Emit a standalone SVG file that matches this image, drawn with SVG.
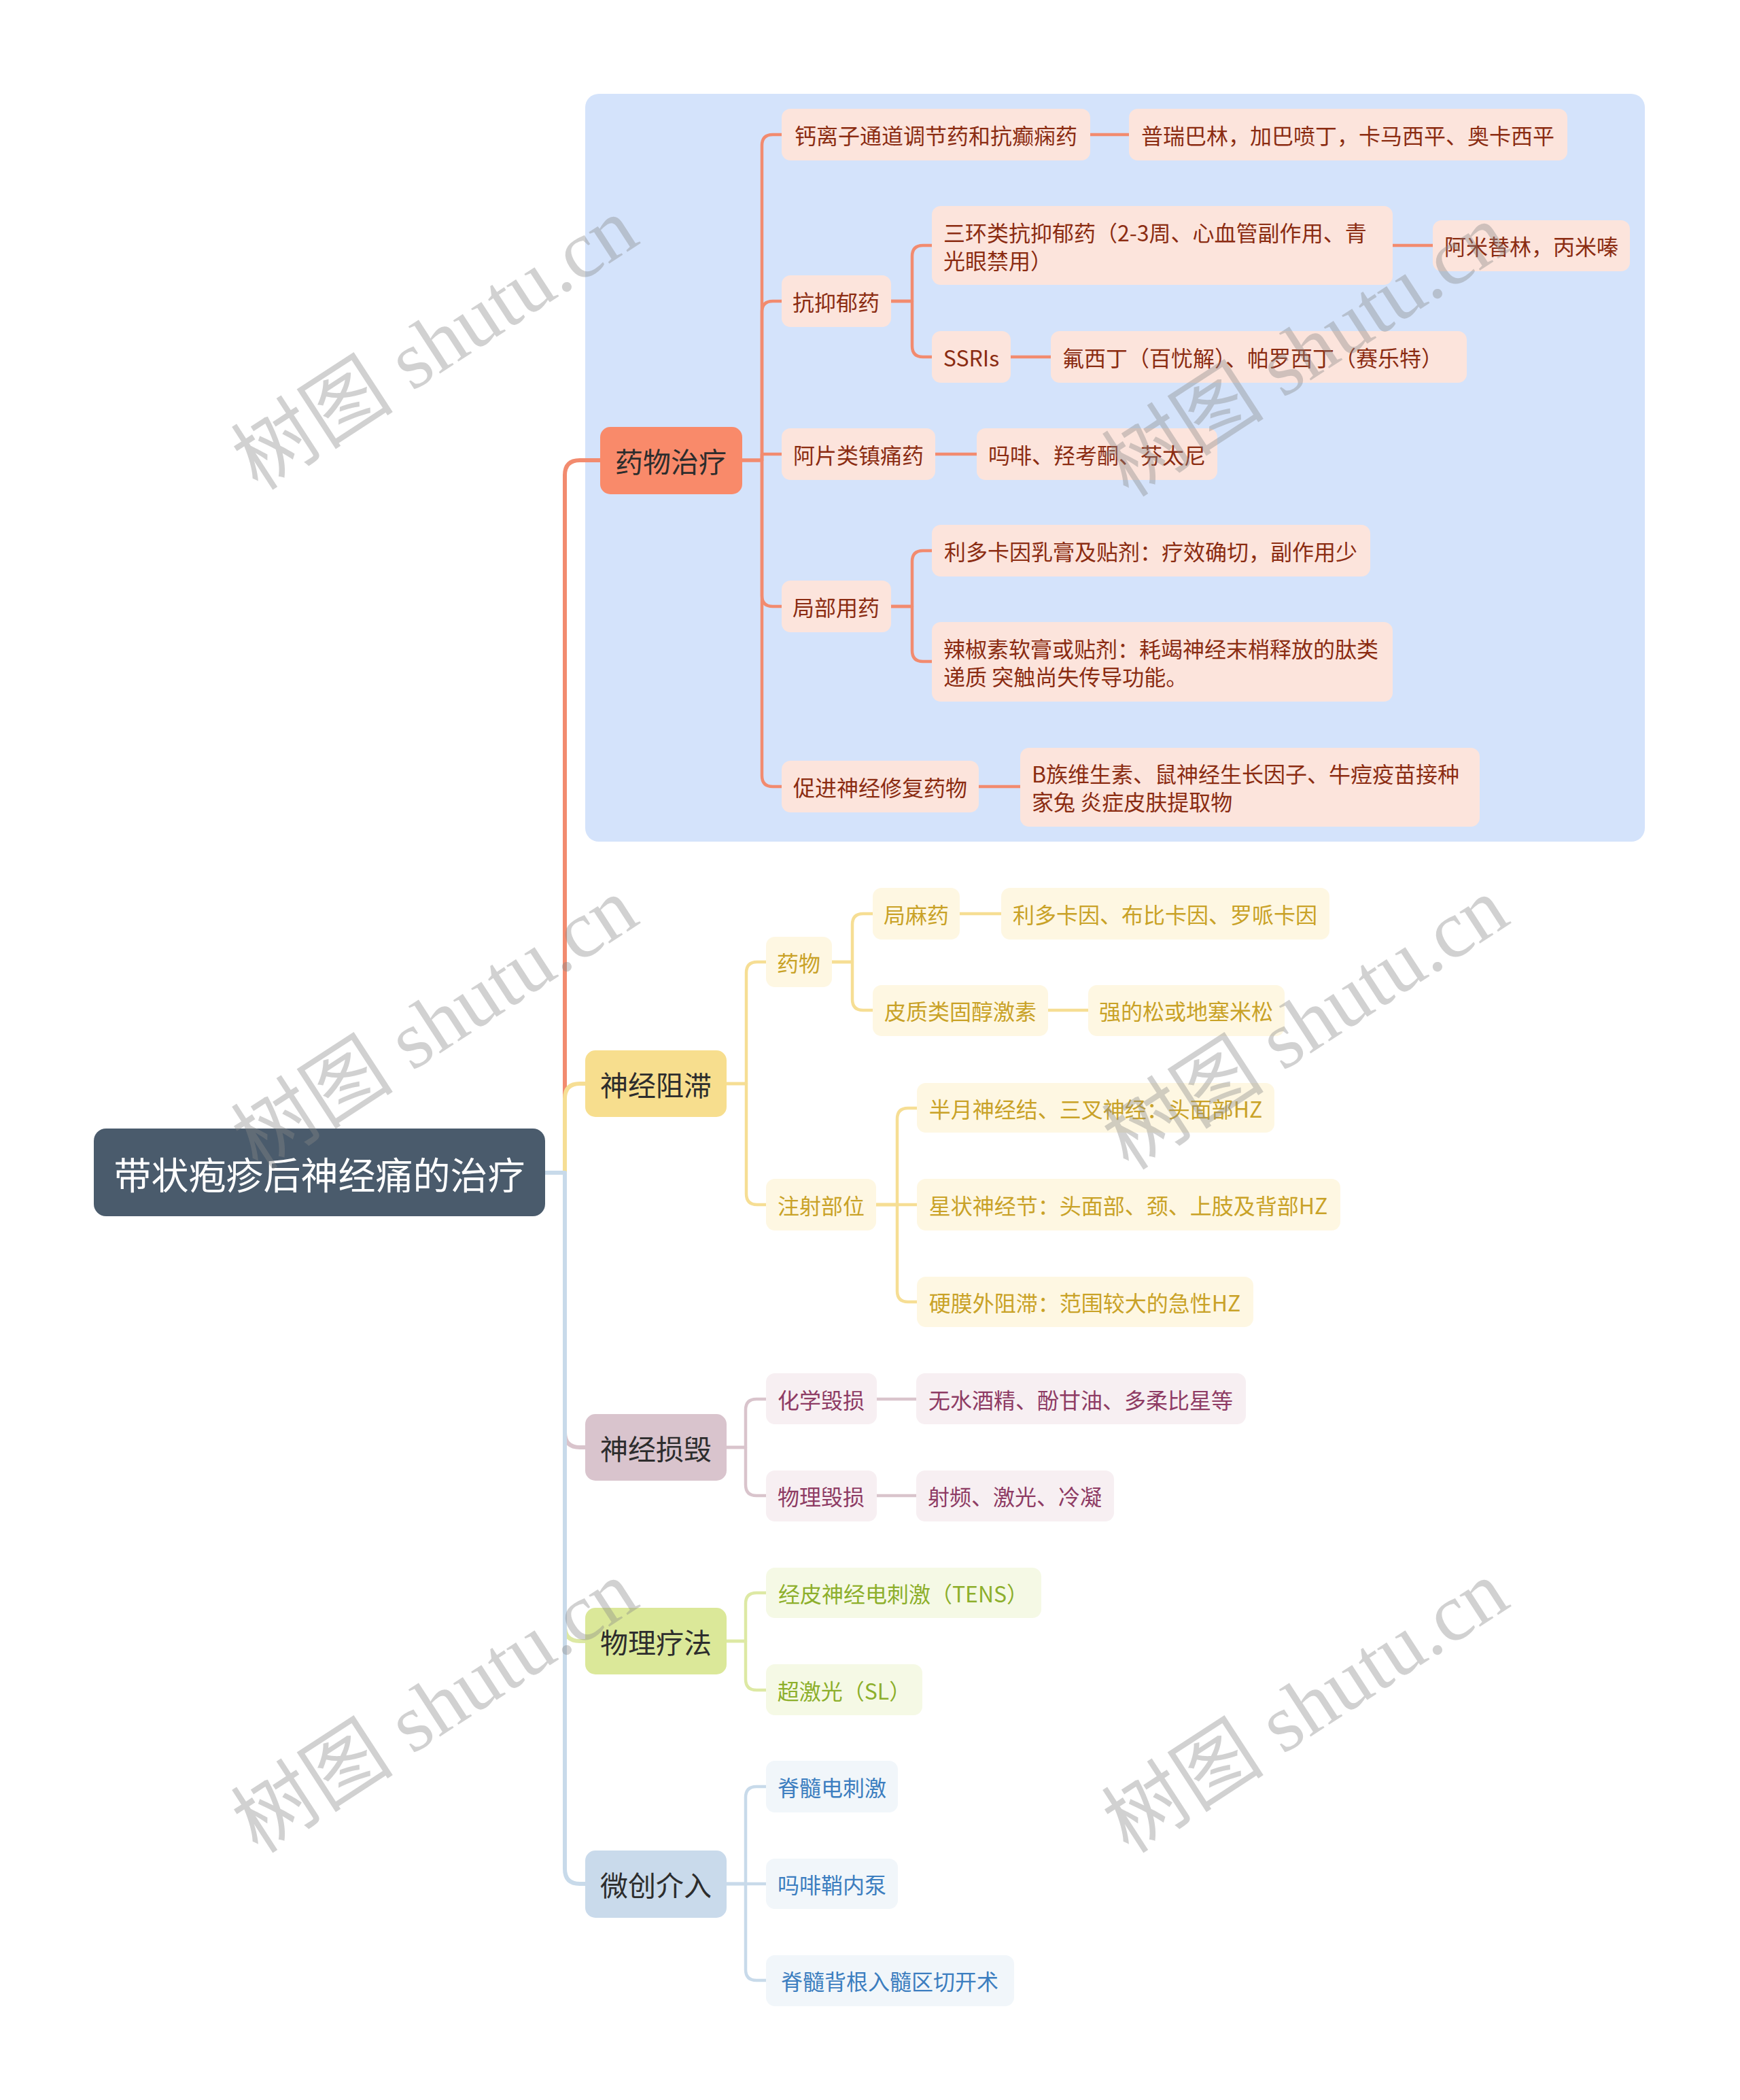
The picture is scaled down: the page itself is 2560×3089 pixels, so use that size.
<svg xmlns="http://www.w3.org/2000/svg" width="2560" height="3089" viewBox="0 0 2560 3089">
<style>
text{font-family:"Noto Sans CJK SC","Noto Sans",sans-serif;dominant-baseline:central;text-anchor:middle}
.c{fill:none;stroke-linecap:round;stroke-linejoin:round}
.c1{stroke-width:6}
.c2{stroke-width:4.5}
.l1{font-size:41px;fill:#2d2d2d}
.l2{font-size:32px}
.o{stroke:#F28B6F}.y{stroke:#F6DE94}.p{stroke:#D9C4CC}.g{stroke:#DDE9A4}.b{stroke:#C8DAEA}
.no rect{fill:#FCE4DC}.no text{fill:#8B2C12}
.ny rect{fill:#FEF7E2}.ny text{fill:#C9A227}
.np rect{fill:#F7EFF2}.np text{fill:#8E3B64}
.ng rect{fill:#F5F9E5}.ng text{fill:#8DAF2B}
.nb rect{fill:#F1F6FA}.nb text{fill:#3C7EC0}
.wm{font-family:"Liberation Serif","Noto Sans CJK SC",serif;font-size:120px;fill:#888;opacity:0.38;dominant-baseline:alphabetic}
</style>
<rect x="0" y="0" width="2560" height="3089" fill="#ffffff"/>
<rect id="bg-drug" x="861" y="138" width="1559" height="1100" rx="20" fill="#D4E3FB"/>

<g id="connectors">
<path class="c c1 o" d="M802,1725 H831 V699 Q831,677 853,677 H883"/>
<path class="c c1 y" d="M802,1725 H831 V1616 Q831,1594 853,1594 H861"/>
<path class="c c1 p" d="M802,1725 H831 V2107 Q831,2129 853,2129 H861"/>
<path class="c c1 g" d="M802,1725 H831 V2392 Q831,2414 853,2414 H861"/>
<path class="c c1 b" d="M802,1725 H831 V2749 Q831,2771 853,2771 H861"/>

<path class="c c2 o" d="M1092,677 H1121 V214 Q1121,198 1137,198 H1150"/>
<path class="c c2 o" d="M1092,677 H1121 V459 Q1121,443 1137,443 H1150"/>
<path class="c c2 o" d="M1092,677 H1121 V668 H1150"/>
<path class="c c2 o" d="M1092,677 H1121 V876 Q1121,892 1137,892 H1150"/>
<path class="c c2 o" d="M1092,677 H1121 V1141 Q1121,1157 1137,1157 H1150"/>
<path class="c c2 o" d="M1604,198 H1661"/>
<path class="c c2 o" d="M1311,443 H1342 V377 Q1342,361 1358,361 H1371"/>
<path class="c c2 o" d="M1311,443 H1342 V509 Q1342,525 1358,525 H1371"/>
<path class="c c2 o" d="M2049,361 H2108"/>
<path class="c c2 o" d="M1487,525 H1546"/>
<path class="c c2 o" d="M1376,668 H1437"/>
<path class="c c2 o" d="M1311,892 H1342 V826 Q1342,810 1358,810 H1371"/>
<path class="c c2 o" d="M1311,892 H1342 V957 Q1342,973 1358,973 H1371"/>
<path class="c c2 o" d="M1440,1157 H1501"/>

<path class="c c2 y" d="M1069,1594 H1098 V1431 Q1098,1415 1114,1415 H1127"/>
<path class="c c2 y" d="M1069,1594 H1098 V1756 Q1098,1772 1114,1772 H1127"/>
<path class="c c2 y" d="M1224,1415 H1254 V1360 Q1254,1344 1270,1344 H1284"/>
<path class="c c2 y" d="M1224,1415 H1254 V1470 Q1254,1486 1270,1486 H1284"/>
<path class="c c2 y" d="M1412,1344 H1473"/>
<path class="c c2 y" d="M1542,1486 H1601"/>
<path class="c c2 y" d="M1289,1772 H1320 V1646 Q1320,1630 1336,1630 H1349"/>
<path class="c c2 y" d="M1289,1772 H1349"/>
<path class="c c2 y" d="M1289,1772 H1320 V1899 Q1320,1915 1336,1915 H1349"/>

<path class="c c2 p" d="M1069,2129 H1097 V2074 Q1097,2058 1113,2058 H1127"/>
<path class="c c2 p" d="M1069,2129 H1097 V2184 Q1097,2200 1113,2200 H1127"/>
<path class="c c2 p" d="M1290,2058 H1348"/>
<path class="c c2 p" d="M1290,2200 H1348"/>

<path class="c c2 g" d="M1069,2414 H1097 V2359 Q1097,2343 1113,2343 H1127"/>
<path class="c c2 g" d="M1069,2414 H1097 V2470 Q1097,2486 1113,2486 H1127"/>

<path class="c c2 b" d="M1069,2771 H1097 V2644 Q1097,2628 1113,2628 H1127"/>
<path class="c c2 b" d="M1069,2771 H1127"/>
<path class="c c2 b" d="M1069,2771 H1097 V2897 Q1097,2913 1113,2913 H1127"/>
</g>

<g id="root"><rect x="138" y="1660" width="664" height="129" rx="18" fill="#4A5B6C"/><text x="470" y="1725" font-size="55" fill="#ffffff">带状疱疹后神经痛的治疗</text></g>

<g id="n-drug"><rect x="883" y="628" width="209" height="99" rx="15" fill="#F98A6A"/><text class="l1" x="987" y="677">药物治疗</text></g>
<g id="n-block"><rect x="861" y="1545" width="208" height="98" rx="15" fill="#F7DE8E"/><text class="l1" x="965" y="1594">神经阻滞</text></g>
<g id="n-destroy"><rect x="861" y="2080" width="208" height="98" rx="15" fill="#D9C4CD"/><text class="l1" x="965" y="2129">神经损毁</text></g>
<g id="n-physio"><rect x="861" y="2365" width="208" height="98" rx="15" fill="#DBE899"/><text class="l1" x="965" y="2414">物理疗法</text></g>
<g id="n-minimal"><rect x="861" y="2722" width="208" height="99" rx="15" fill="#C9DAEB"/><text class="l1" x="965" y="2771">微创介入</text></g>

<g class="no">
<g id="n-ca"><rect x="1150" y="160" width="454" height="76" rx="13"/><text class="l2" x="1377" y="198">钙离子通道调节药和抗癫痫药</text></g>
<g id="n-ca1"><rect x="1661" y="160" width="645" height="76" rx="13"/><text class="l2" x="1983" y="198">普瑞巴林，加巴喷丁，卡马西平、奥卡西平</text></g>
<g id="n-ad"><rect x="1150" y="405" width="161" height="76" rx="13"/><text class="l2" x="1230" y="443">抗抑郁药</text></g>
<g id="n-tca"><rect x="1371" y="303" width="678" height="116" rx="13"/><text class="l2" x="1388" y="341" style="text-anchor:start">三环类抗抑郁药（2-3周、心血管副作用、青</text><text class="l2" x="1388" y="382" style="text-anchor:start">光眼禁用）</text></g>
<g id="n-tca1"><rect x="2108" y="324" width="290" height="75" rx="13"/><text class="l2" x="2253" y="361">阿米替林，丙米嗪</text></g>
<g id="n-ssri"><rect x="1371" y="487" width="116" height="76" rx="13"/><text class="l2" x="1429" y="525">SSRIs</text></g>
<g id="n-ssri1"><rect x="1546" y="487" width="612" height="76" rx="13"/><text class="l2" x="1563" y="525" style="text-anchor:start">氟西丁（百忧解）、帕罗西丁（赛乐特）</text></g>
<g id="n-op"><rect x="1150" y="630" width="226" height="76" rx="13"/><text class="l2" x="1263" y="668">阿片类镇痛药</text></g>
<g id="n-op1"><rect x="1437" y="630" width="354" height="76" rx="13"/><text class="l2" x="1614" y="668">吗啡、羟考酮、芬太尼</text></g>
<g id="n-local"><rect x="1150" y="854" width="161" height="76" rx="13"/><text class="l2" x="1230" y="892">局部用药</text></g>
<g id="n-lido"><rect x="1371" y="772" width="645" height="76" rx="13"/><text class="l2" x="1693" y="810">利多卡因乳膏及贴剂：疗效确切，副作用少</text></g>
<g id="n-cap"><rect x="1371" y="915" width="678" height="117" rx="13"/><text class="l2" x="1388" y="953" style="text-anchor:start">辣椒素软膏或贴剂：耗竭神经末梢释放的肽类</text><text class="l2" x="1388" y="994" style="text-anchor:start">递质 突触尚失传导功能。</text></g>
<g id="n-repair"><rect x="1150" y="1119" width="290" height="76" rx="13"/><text class="l2" x="1295" y="1157">促进神经修复药物</text></g>
<g id="n-repair1"><rect x="1501" y="1100" width="676" height="116" rx="13"/><text class="l2" x="1518" y="1137" style="text-anchor:start">B族维生素、鼠神经生长因子、牛痘疫苗接种</text><text class="l2" x="1518" y="1178" style="text-anchor:start">家兔 炎症皮肤提取物</text></g>
</g>

<g class="ny">
<g id="n-bdrug"><rect x="1127" y="1378" width="97" height="74" rx="13"/><text class="l2" x="1175" y="1415">药物</text></g>
<g id="n-la"><rect x="1284" y="1306" width="128" height="76" rx="13"/><text class="l2" x="1348" y="1344">局麻药</text></g>
<g id="n-la1"><rect x="1473" y="1306" width="483" height="76" rx="13"/><text class="l2" x="1714" y="1344">利多卡因、布比卡因、罗哌卡因</text></g>
<g id="n-ster"><rect x="1284" y="1449" width="258" height="75" rx="13"/><text class="l2" x="1413" y="1486">皮质类固醇激素</text></g>
<g id="n-ster1"><rect x="1601" y="1449" width="289" height="75" rx="13"/><text class="l2" x="1745" y="1486">强的松或地塞米松</text></g>
<g id="n-site"><rect x="1127" y="1734" width="162" height="76" rx="13"/><text class="l2" x="1208" y="1772">注射部位</text></g>
<g id="n-site1"><rect x="1349" y="1593" width="526" height="73" rx="13"/><text class="l2" x="1612" y="1630">半月神经结、三叉神经：头面部HZ</text></g>
<g id="n-site2"><rect x="1349" y="1734" width="623" height="76" rx="13"/><text class="l2" x="1660" y="1772">星状神经节：头面部、颈、上肢及背部HZ</text></g>
<g id="n-site3"><rect x="1349" y="1878" width="495" height="74" rx="13"/><text class="l2" x="1596" y="1915">硬膜外阻滞：范围较大的急性HZ</text></g>
</g>

<g class="np">
<g id="n-chem"><rect x="1127" y="2020" width="163" height="75" rx="13"/><text class="l2" x="1208" y="2058">化学毁损</text></g>
<g id="n-chem1"><rect x="1348" y="2020" width="485" height="75" rx="13"/><text class="l2" x="1590" y="2058">无水酒精、酚甘油、多柔比星等</text></g>
<g id="n-phys"><rect x="1127" y="2163" width="163" height="75" rx="13"/><text class="l2" x="1208" y="2200">物理毁损</text></g>
<g id="n-phys1"><rect x="1348" y="2163" width="291" height="75" rx="13"/><text class="l2" x="1493" y="2200">射频、激光、冷凝</text></g>
</g>

<g class="ng">
<g id="n-tens"><rect x="1127" y="2306" width="405" height="74" rx="13"/><text class="l2" x="1329" y="2343">经皮神经电刺激（TENS）</text></g>
<g id="n-sl"><rect x="1127" y="2448" width="230" height="75" rx="13"/><text class="l2" x="1242" y="2486">超激光（SL）</text></g>
</g>

<g class="nb">
<g id="n-scs"><rect x="1127" y="2590" width="194" height="76" rx="13"/><text class="l2" x="1224" y="2628">脊髓电刺激</text></g>
<g id="n-pump"><rect x="1127" y="2734" width="194" height="74" rx="13"/><text class="l2" x="1224" y="2771">吗啡鞘内泵</text></g>
<g id="n-drez"><rect x="1127" y="2876" width="365" height="75" rx="13"/><text class="l2" x="1309" y="2913">脊髓背根入髓区切开术</text></g>
</g>

<g id="watermarks">
<text class="wm" transform="translate(662,540) rotate(-33)">树图 shutu.cn</text>
<text class="wm" transform="translate(662,1540) rotate(-33)">树图 shutu.cn</text>
<text class="wm" transform="translate(662,2545) rotate(-33)">树图 shutu.cn</text>
<text class="wm" transform="translate(1943,550) rotate(-33)">树图 shutu.cn</text>
<text class="wm" transform="translate(1943,1540) rotate(-33)">树图 shutu.cn</text>
<text class="wm" transform="translate(1943,2545) rotate(-33)">树图 shutu.cn</text>
</g>
</svg>
